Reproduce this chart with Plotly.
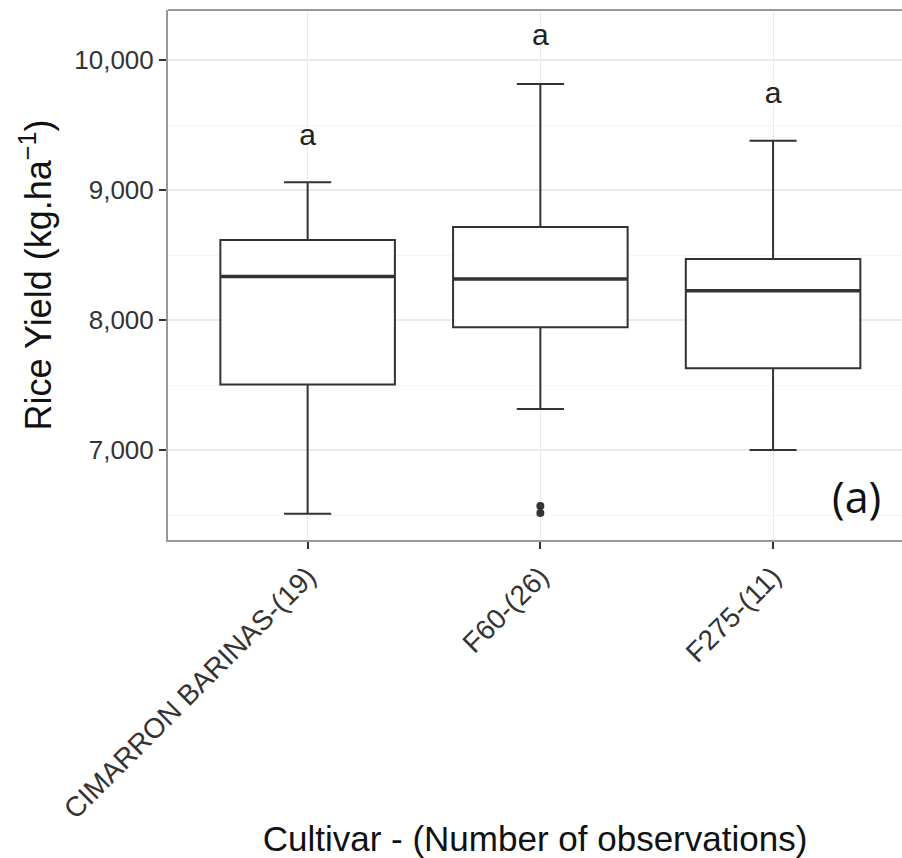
import plotly.graph_objects as go

categories = ["CIMARRON BARINAS-(19)", "F60-(26)", "F275-(11)"]
lower_whisker = [6510, 7315, 7000]
q1 = [7505, 7945, 7630]
median = [8335, 8315, 8225]
q3 = [8615, 8715, 8470]
upper_whisker = [9060, 9815, 9380]
outlier_cat = ["F60-(26)", "F60-(26)"]
outlier_val = [6515, 6570]
letters = ["a", "a", "a"]
letter_y = [9405, 10175, 9725]

LINE = "#333333"
FONT = "Liberation Sans, Arial"
fig = go.Figure()
fig.add_trace(go.Box(
    x=categories, q1=q1, median=median, q3=q3,
    lowerfence=lower_whisker, upperfence=upper_whisker,
    fillcolor="white", line=dict(color=LINE, width=2),
    whiskerwidth=0.27, width=0.75, boxpoints=False, showlegend=False,
    hoverinfo="skip"))
# thicker median line
fig.add_trace(go.Box(
    x=categories, q1=median, median=median, q3=median,
    lowerfence=median, upperfence=median,
    fillcolor="rgba(0,0,0,0)", line=dict(color=LINE, width=3.5),
    whiskerwidth=0, width=0.75, boxpoints=False, showlegend=False,
    hoverinfo="skip"))
fig.add_trace(go.Scatter(
    x=outlier_cat, y=outlier_val, mode="markers",
    marker=dict(color=LINE, size=8), showlegend=False, hoverinfo="skip"))
fig.add_trace(go.Scatter(
    x=categories, y=letter_y, mode="text", text=letters,
    textfont=dict(family=FONT, size=30, color="#222222"),
    showlegend=False, hoverinfo="skip"))

fig.add_annotation(x=2.36, y=6640, xref="x", yref="y", text="(a)",
                   showarrow=False,
                   font=dict(family="Open Sans, Lato", size=43, color="#111111"))

grid = "#ebebeb"
fig.update_xaxes(
    type="category", categoryorder="array", categoryarray=categories,
    range=[-0.6, 2.554], tickangle=-45,
    tickfont=dict(family=FONT, size=28, color="#333333"),
    showgrid=True, gridcolor=grid, gridwidth=1,
    ticks="outside", ticklen=7, tickwidth=2, tickcolor="#333333",
    showline=True, linecolor="#999999", linewidth=2,
    title=dict(text="Cultivar - (Number of observations)",
               font=dict(family=FONT, size=35, color="#111111"),
               standoff=6),
    zeroline=False, automargin=False)
fig.update_yaxes(
    range=[6308, 10385], tickvals=[7000, 8000, 9000, 10000],
    ticktext=["7,000", "8,000", "9,000", "10,000"],
    tickfont=dict(family=FONT, size=26, color="#333333"),
    showgrid=True, gridcolor=grid, gridwidth=1.5,
    minor=dict(tickvals=[6500, 7500, 8500, 9500], showgrid=True,
               gridcolor="#f5f5f5", gridwidth=1),
    ticks="outside", ticklen=7, tickwidth=2, tickcolor="#333333",
    showline=True, linecolor="#999999", linewidth=2,
    title=dict(text="Rice Yield (kg.ha<sup>−1</sup>)",
               font=dict(family=FONT, size=36, color="#111111"),
               standoff=12),
    zeroline=False, automargin=False)
fig.add_shape(type="line", xref="paper", yref="paper", x0=0, x1=1, y0=1, y1=1,
              line=dict(color="#999999", width=2))

fig.update_layout(
    width=902, height=858,
    margin=dict(l=168, r=0, t=10, b=318),
    plot_bgcolor="white", paper_bgcolor="white",
)
fig.write_html("out.html")
